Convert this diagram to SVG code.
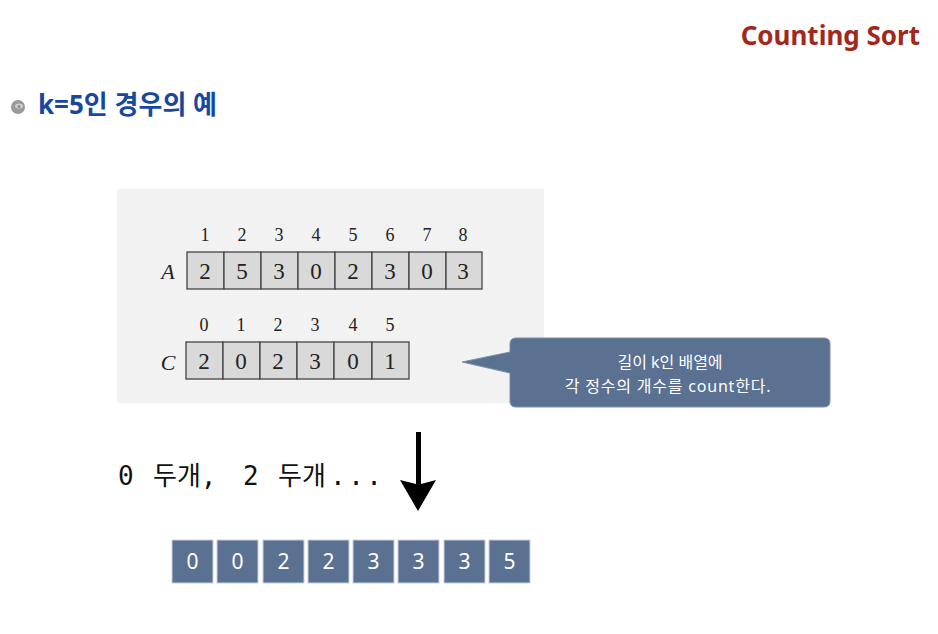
<svg xmlns="http://www.w3.org/2000/svg" width="938" height="634" viewBox="0 0 938 634">
<defs>
<style>
.title{font-family:"Noto Sans","Noto Sans CJK KR",sans-serif;font-weight:bold}
.serif{font-family:"Liberation Serif","DejaVu Serif",serif;fill:#222}
.idx{font-size:18px;text-anchor:middle}
.val{font-size:23px;text-anchor:middle}
.cell{fill:#d9d9d9;stroke:#444;stroke-width:1.3}
.blue{fill:#5a7191;stroke:#c9d2de;stroke-width:1}
.bval{font-family:"Noto Sans","Open Sans",sans-serif;font-size:21px;fill:#fff;text-anchor:middle}
.note{font-family:"Noto Sans","Noto Sans CJK KR",sans-serif;font-size:16px;fill:#fff;text-anchor:middle}
.mono{font-family:"DejaVu Sans Mono","Noto Sans CJK KR",monospace;font-size:26px;fill:#111}
</style>
</defs>
<rect width="938" height="634" fill="#fff"/>
<g id="title"><text class="title" x="920" y="45" font-size="26" fill="#a3281c" text-anchor="end">Counting Sort</text></g>
<g id="heading">
<circle cx="18" cy="107" r="7" fill="#9a9a9a"/>
<ellipse cx="19" cy="106" rx="4" ry="2.6" fill="#d0d0d0"/>
<circle cx="19" cy="106.5" r="1.5" fill="#8a8a8a"/>
<text class="title" x="38" y="114" font-size="26" fill="#17479e">k=5인 경우의 예</text>
</g>
<g id="panel">
<rect x="117" y="189" width="427" height="214" fill="#f2f2f2"/>
</g>
<g id="arrayA">
<text class="serif" x="168" y="279" font-size="22" font-style="italic" text-anchor="middle">A</text>
<g class="serif idx">
<text x="205" y="241">1</text><text x="242" y="241">2</text><text x="279" y="241">3</text><text x="316" y="241">4</text><text x="353" y="241">5</text><text x="390" y="241">6</text><text x="427" y="241">7</text><text x="463" y="241">8</text>
</g>
<rect class="cell" x="187" y="252" width="37" height="37"/><rect class="cell" x="224" y="252" width="37" height="37"/><rect class="cell" x="261" y="252" width="37" height="37"/><rect class="cell" x="298" y="252" width="37" height="37"/><rect class="cell" x="335" y="252" width="37" height="37"/><rect class="cell" x="372" y="252" width="37" height="37"/><rect class="cell" x="409" y="252" width="37" height="37"/><rect class="cell" x="446" y="252" width="36" height="37"/>
<g class="serif val">
<text x="205" y="279">2</text><text x="242" y="279">5</text><text x="279" y="279">3</text><text x="316" y="279">0</text><text x="353" y="279">2</text><text x="390" y="279">3</text><text x="427" y="279">0</text><text x="463" y="279">3</text>
</g>
</g>
<g id="arrayC">
<text class="serif" x="168" y="370" font-size="22" font-style="italic" text-anchor="middle">C</text>
<g class="serif idx">
<text x="204" y="331">0</text><text x="241" y="331">1</text><text x="278" y="331">2</text><text x="315" y="331">3</text><text x="353" y="331">4</text><text x="390" y="331">5</text>
</g>
<rect class="cell" x="186" y="342" width="37" height="37"/><rect class="cell" x="223" y="342" width="37" height="37"/><rect class="cell" x="260" y="342" width="37" height="37"/><rect class="cell" x="297" y="342" width="37" height="37"/><rect class="cell" x="334" y="342" width="38" height="37"/><rect class="cell" x="372" y="342" width="37" height="37"/>
<g class="serif val">
<text x="204" y="369">2</text><text x="241" y="369">0</text><text x="278" y="369">2</text><text x="315" y="369">3</text><text x="353" y="369">0</text><text x="390" y="369">1</text>
</g>
</g>
<g id="callout">
<path d="M516,338 H824 Q830,338 830,344 V401 Q830,407 824,407 H516 Q510,407 510,401 V373 L462,362 L510,352 V344 Q510,338 516,338 Z" fill="#5a7191" stroke="#7c8ea6" stroke-width="1"/>
<text class="note" x="670" y="368">길이 k인 배열에</text>
<text class="note" x="668" y="392" letter-spacing="0.8">각 정수의 개수를 count한다.</text>
</g>
<g id="caption">
<text class="mono" x="118" y="485">0</text>
<text class="mono" x="153" y="485">두개,</text>
<text class="mono" x="243" y="485">2</text>
<text class="mono" x="278" y="485">두개</text>
<text class="mono" x="330" y="485" letter-spacing="2.5">...</text>
</g>
<g id="connectors">
<path d="M416,432 L421,432 L421,484 L436,480 L418,511 L400,480 L416,484 Z" fill="#000"/>
</g>
<g id="result">
<rect class="blue" x="172" y="540" width="41" height="43"/><rect class="blue" x="217" y="540" width="41" height="43"/><rect class="blue" x="263" y="540" width="41" height="43"/><rect class="blue" x="308" y="540" width="41" height="43"/><rect class="blue" x="353" y="540" width="41" height="43"/><rect class="blue" x="398" y="540" width="41" height="43"/><rect class="blue" x="444" y="540" width="41" height="43"/><rect class="blue" x="489" y="540" width="41" height="43"/>
<text class="bval" x="192.5" y="569">0</text><text class="bval" x="237.5" y="569">0</text><text class="bval" x="283.5" y="569">2</text><text class="bval" x="328.5" y="569">2</text><text class="bval" x="373.5" y="569">3</text><text class="bval" x="418.5" y="569">3</text><text class="bval" x="464.5" y="569">3</text><text class="bval" x="509.5" y="569">5</text>
</g>
</svg>
